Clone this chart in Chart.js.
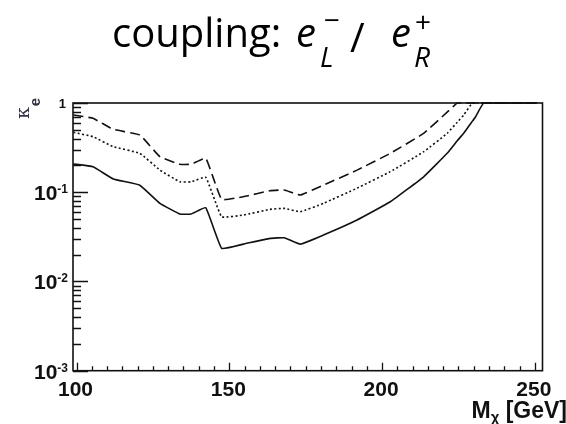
<!DOCTYPE html>
<html>
<head>
<meta charset="utf-8">
<script src="https://cdn.jsdelivr.net/npm/chart.js@4/dist/chart.umd.min.js"></script>
<style>
  body { margin: 0; background: #fff; }
  #plot { display: block; }
</style>
</head>
<body>
<canvas id="plot" width="566" height="424"></canvas>
<script>
const masses = [99, 105.4, 112, 120.7, 127.3, 133.8, 137.5, 142.3, 147.5, 154.6, 163.3, 168, 173.2,
  180.8, 191.8, 202.7, 213.6, 221.3, 224.6, 226.7, 229.5, 230.6, 233.3, 250.8];

// limits on kappa_e
const solidLimit = [0.207, 0.193, 0.141, 0.120, 0.0751, 0.0570, 0.0570, 0.0670, 0.0235, 0.0262, 0.0304, 0.0309, 0.0262,
  0.0331, 0.0488, 0.0782, 0.149, 0.273, 0.377, 0.457, 0.622, 0.702, 1, 1];
const dottedLimit = [0.469, 0.419, 0.324, 0.273, 0.177, 0.131, 0.131, 0.147, 0.0531, 0.0555, 0.0643, 0.066, 0.0604,
  0.0751, 0.111, 0.170, 0.284, 0.457, 0.609, 0.733, 1, 1, 1, 1];
const dashedLimit = [0.733, 0.673, 0.507, 0.438, 0.250, 0.206, 0.206, 0.240, 0.0832, 0.0891, 0.104, 0.106, 0.0930,
  0.120, 0.177, 0.273, 0.457, 0.79, 1, 1, 1, 1, 1, 1];

// axis ticks
const xTickValues = [100, 150, 200, 250];
const xTickLabels = ['100', '150', '200', '250'];
const yTickValues = [1, 0.1, 0.01, 0.001];
const yTickBases = ['1', '10', '10', '10'];
const yTickExps = ['', '-1', '-2', '-3'];

const INK = '#111';
const BOLD = '"Liberation Sans", Arial, sans-serif';
const TITLE = '"Open Sans", "Noto Sans", sans-serif';

function toPoints(ys) {
  return masses.map((m, i) => ({ x: m, y: ys[i] }));
}

// frame, inward ticks, labels and title (ROOT style)
const rootStyle = {
  id: 'rootStyle',
  afterDraw(chart) {
    const ctx = chart.ctx;
    const area = chart.chartArea;
    const xs = chart.scales.x;
    const ys = chart.scales.y;
    ctx.save();
    ctx.strokeStyle = INK;
    ctx.fillStyle = INK;

    // frame
    ctx.lineWidth = 1.6;
    ctx.strokeRect(area.left, area.top, area.right - area.left, area.bottom - area.top);

    // x ticks
    ctx.lineWidth = 1.3;
    ctx.beginPath();
    for (let v = 100; v <= 250; v += 5) {
      const px = Math.round(xs.getPixelForValue(v)) + 0.5;
      const len = v % 50 === 0 ? 8 : 4.5;
      ctx.moveTo(px, area.bottom);
      ctx.lineTo(px, area.bottom - len);
    }
    // y ticks
    for (let e = -3; e <= 0; e++) {
      for (let k = 1; k <= 9; k++) {
        const v = k * Math.pow(10, e);
        if (v > 1.0001) break;
        const py = Math.round(ys.getPixelForValue(v)) + 0.5;
        const len = k === 1 ? 15 : 8;
        ctx.moveTo(area.left, py);
        ctx.lineTo(area.left + len, py);
      }
    }
    ctx.stroke();

    // x tick labels
    ctx.font = 'bold 21px ' + BOLD;
    ctx.textAlign = 'center';
    ctx.textBaseline = 'alphabetic';
    xTickValues.forEach((v, i) => {
      ctx.fillText(xTickLabels[i], xs.getPixelForValue(v) - 1, area.bottom + 25);
    });

    // y tick labels with exponents
    yTickValues.forEach((v, i) => {
      const py = ys.getPixelForValue(v);
      const right = area.left - 5;
      if (yTickExps[i] === '') {
        ctx.font = 'bold 13px ' + BOLD;
        ctx.textAlign = 'right';
        ctx.fillText(yTickBases[i], right - 2, py + 5);
        return;
      }
      ctx.font = 'bold 12px ' + BOLD;
      ctx.textAlign = 'right';
      const expW = ctx.measureText(yTickExps[i]).width;
      ctx.fillText(yTickExps[i], right, py + 1);
      ctx.font = 'bold 21px ' + BOLD;
      ctx.fillText(yTickBases[i], right - expW, py + 8);
    });

    // x axis title: M_chi [GeV]
    ctx.textAlign = 'left';
    ctx.font = 'bold 23px ' + BOLD;
    const mW = ctx.measureText('M').width;
    const gevW = ctx.measureText(' [GeV]').width;
    ctx.font = 'bold 15px ' + BOLD;
    const chiW = ctx.measureText('\u03c7').width;
    const tx = 567 - (mW + chiW + gevW);
    ctx.font = 'bold 23px ' + BOLD;
    ctx.fillText('M', tx, 418);
    ctx.fillText(' [GeV]', tx + mW + chiW, 418);
    ctx.font = 'bold 15px ' + BOLD;
    ctx.fillText('\u03c7', tx + mW, 422);

    // y axis title: kappa_e, rotated
    ctx.save();
    ctx.translate(29, 119);
    ctx.rotate(-Math.PI / 2);
    ctx.textAlign = 'left';
    ctx.fillStyle = '#334';
    ctx.font = '19px "DejaVu Serif", serif';
    ctx.fillText('\u03ba', 0, 0);
    const kW = ctx.measureText('\u03ba').width;
    ctx.font = 'bold 15px ' + BOLD;
    ctx.fillText('e', kW + 1, 11);
    ctx.restore();

    // title: coupling: e_L^- / e_R^+
    ctx.fillStyle = '#000';
    ctx.textAlign = 'left';
    ctx.font = '40px ' + TITLE;
    ctx.fillText('coupling:', 112, 47);
    ctx.font = 'italic 40px ' + TITLE;
    ctx.fillText('e', 296, 47);
    ctx.fillText('e', 391, 47);
    ctx.font = 'italic 28px ' + TITLE;
    ctx.fillText('L', 320, 67);
    ctx.fillText('R', 414, 67);
    ctx.font = '28px ' + TITLE;
    ctx.fillText('\u2212', 324, 30);
    ctx.fillText('+', 415, 32);
    ctx.font = '40px ' + TITLE;
    ctx.fillText('/', 350, 52);
    ctx.restore();
  }
};

const lineBase = {
  borderColor: INK,
  borderWidth: 1.6,
  pointRadius: 0,
  fill: false,
  tension: 0.1,
  clip: 2
};

new Chart(document.getElementById('plot'), {
  type: 'line',
  data: {
    datasets: [
      Object.assign({ label: 'solid', data: toPoints(solidLimit) }, lineBase),
      Object.assign({ label: 'dotted', data: toPoints(dottedLimit), borderDash: [2, 2.4] }, lineBase),
      Object.assign({ label: 'dashed', data: toPoints(dashedLimit), borderDash: [10, 5] }, lineBase)
    ]
  },
  options: {
    responsive: false,
    animation: false,
    layout: { padding: { left: 73, top: 103, right: 23.5, bottom: 53.3 } },
    plugins: { legend: { display: false }, tooltip: { enabled: false } },
    scales: {
      x: { type: 'linear', min: 98.85, max: 252.5, display: false },
      y: { type: 'logarithmic', min: 0.001, max: 1, display: false }
    }
  },
  plugins: [rootStyle]
});
</script>
</body>
</html>
